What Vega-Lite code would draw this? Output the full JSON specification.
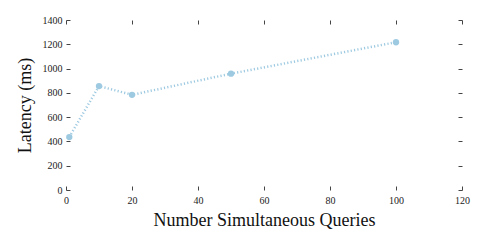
{
  "$schema": "https://vega.github.io/schema/vega-lite/v6.json",
  "width": 396,
  "height": 170,
  "autosize": {"type": "none"},
  "padding": {"left": 66, "top": 20, "right": 23, "bottom": 52},
  "background": "white",
  "config": {
    "view": {"stroke": null},
    "axis": {
      "domain": false,
      "grid": false,
      "tickSize": -4,
      "tickColor": "#444",
      "tickWidth": 1,
      "format": "d",
      "labelFont": "Liberation Serif",
      "labelFontSize": 10,
      "labelColor": "#222",
      "titleFont": "Liberation Serif",
      "titleFontSize": 18,
      "titleFontWeight": "normal",
      "titleColor": "#111"
    }
  },
  "data": {"values": [
    {"q": 1, "latency": 436},
    {"q": 10, "latency": 856},
    {"q": 20, "latency": 784},
    {"q": 50, "latency": 958},
    {"q": 100, "latency": 1217}
  ]},
  "layer": [
    {
      "mark": {"type": "line", "color": "#9ecae1", "strokeWidth": 2.5, "strokeDash": [1.2, 2.2]},
      "encoding": {
        "x": {"field": "q", "type": "quantitative", "scale": {"domain": [0, 120], "nice": false},
          "axis": {"orient": "bottom", "values": [0, 20, 40, 60, 80, 100, 120], "title": "Number Simultaneous Queries", "labelPadding": 9, "titlePadding": 6, "labelFlush": false}},
        "y": {"field": "latency", "type": "quantitative", "scale": {"domain": [0, 1400], "nice": false},
          "axis": {"orient": "left", "values": [0, 200, 400, 600, 800, 1000, 1200, 1400], "title": "Latency (ms)", "labelPadding": 8, "titlePadding": 8, "labelFlush": false}}
      }
    },
    {
      "mark": {"type": "point", "filled": true, "opacity": 1, "color": "#9ecae1", "size": 40},
      "encoding": {
        "x": {"field": "q", "type": "quantitative", "scale": {"domain": [0, 120], "nice": false},
          "axis": {"orient": "top", "values": [0, 20, 40, 60, 80, 100, 120], "labels": false, "title": null}},
        "y": {"field": "latency", "type": "quantitative", "scale": {"domain": [0, 1400], "nice": false},
          "axis": {"orient": "right", "values": [0, 200, 400, 600, 800, 1000, 1200, 1400], "labels": false, "title": null}}
      }
    }
  ],
  "resolve": {"axis": {"x": "independent", "y": "independent"}}
}
